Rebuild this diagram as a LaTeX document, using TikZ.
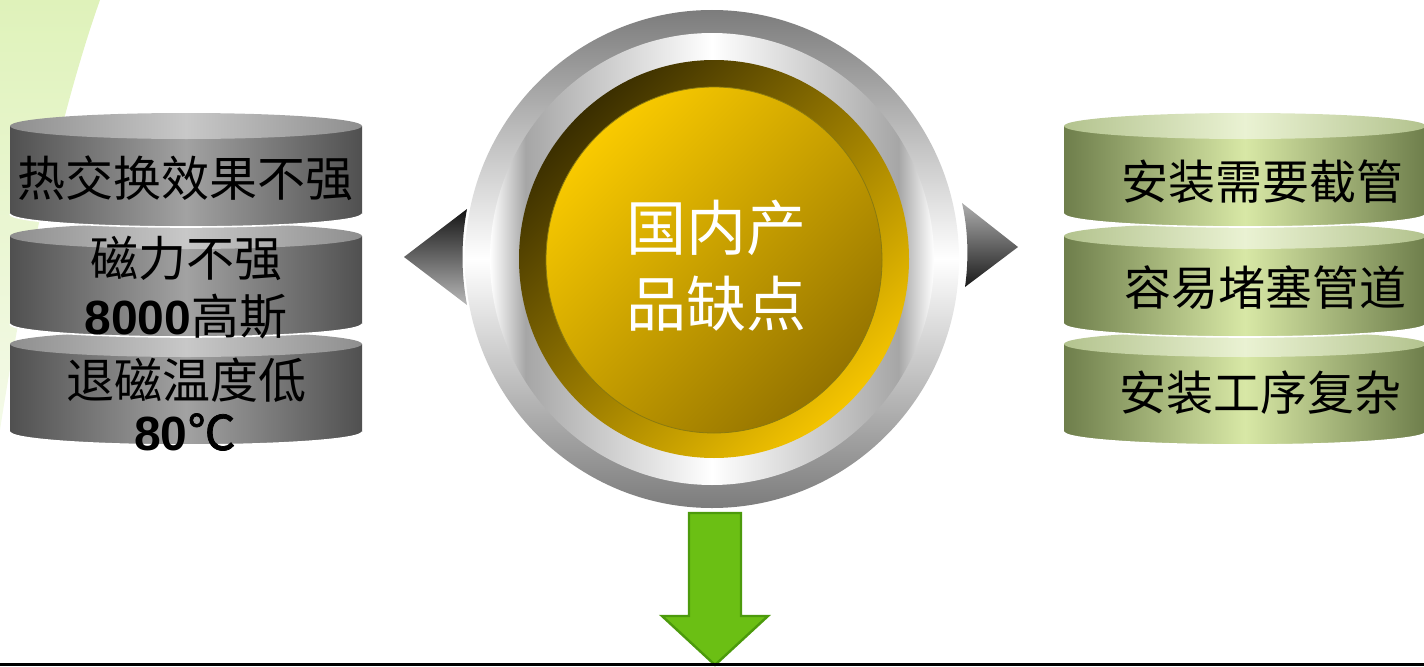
\documentclass[tikz,border=0pt]{standalone}
\usepackage{fontspec}
\setmainfont{Liberation Sans}
\newfontfamily\cjk{Noto Sans CJK SC}
\newfontfamily\cjkb[FakeBold=1.5]{Noto Sans CJK SC}
\definecolor{gd}{HTML}{505050}
\definecolor{gm}{HTML}{A2A2A2}
\definecolor{gtd}{HTML}{8E8E8E}
\definecolor{gtm}{HTML}{C8C8C8}
\definecolor{od}{HTML}{6E7E4B}
\definecolor{om}{HTML}{D8E8A6}
\definecolor{otd}{HTML}{B3C38E}
\definecolor{otm}{HTML}{EAF2D3}
\definecolor{leafA}{HTML}{DFF2BA}
\definecolor{leafB}{HTML}{F4FAE8}
\definecolor{ringgray}{HTML}{A6A6A6}
\definecolor{ringouter}{HTML}{7C7C7C}
\definecolor{golddark}{HTML}{3A2E00}
\definecolor{goldbright}{HTML}{F4C400}
\definecolor{yelbright}{HTML}{F9CA00}
\definecolor{yeldark}{HTML}{957400}
\definecolor{yeledge}{HTML}{8A7A10}
\definecolor{arrowgreen}{HTML}{6BBF14}
\definecolor{arrowedge}{HTML}{4C9A0C}
\pgfdeclarehorizontalshading{ringtwo}{100bp}{color(0bp)=(white); color(25bp)=(white); color(29bp)=(ringgray); color(50bp)=(white); color(71bp)=(ringgray); color(75bp)=(white); color(100bp)=(white)}
\tikzset{
  gbody/.style={left color=gd, right color=gd, middle color=gm},
  gtop/.style={left color=gtd, right color=gtd, middle color=gtm},
  obody/.style={left color=od, right color=od, middle color=om},
  otop/.style={left color=otd, right color=otd, middle color=otm},
  cyltext/.style={inner sep=0pt, text=black, font=\cjk\fontsize{24}{28}\selectfont},
  cyltextr/.style={inner sep=0pt, text=black, font=\cjk\fontsize{23.5}{28}\selectfont},
  centertext/.style={inner sep=0pt, text=white, font=\cjk\fontsize{30}{34}\selectfont},
}
\newcommand\mycyl[6]{%
  \path[#5] ({#1-#2},#3) -- ({#1-#2},#4) arc[start angle=180,end angle=360,x radius=#2,y radius=13] -- ({#1+#2},#3) -- cycle;
  \draw[white, line width=0.8] ({#1-#2},#4) arc[start angle=180,end angle=360,x radius=#2,y radius=13];
  \path[#6] (#1,#3) ellipse [x radius=#2, y radius=13];
}
\begin{document}
\begin{tikzpicture}[x=0.5pt,y=0.5pt]
\useasboundingbox (0,0) rectangle (1424,666);
% light green leaf in the corner
\shade[top color=leafA, bottom color=leafB] (0,666) -- (100,666) .. controls (62,560) and (22,380) .. (0,236) -- cycle;

% left cylinders
\mycyl{186}{176}{322}{234}{gbody}{gtop}
\mycyl{186}{176}{430}{342}{gbody}{gtop}
\mycyl{186}{176}{540}{452}{gbody}{gtop}
% right cylinders
\mycyl{1245}{181}{322}{234}{obody}{otop}
\mycyl{1245}{181}{430}{342}{obody}{otop}
\mycyl{1245}{181}{540}{452}{obody}{otop}

\node[cyltext] (l1) at (186,488) {热交换效果不强};
\node[cyltext] (l2) at (186,408) {磁力不强};
\node[cyltext] (l3) at (186,349) {{\rmfamily\bfseries 8000}高斯};
\node[cyltext] (l4) at (186,286) {退磁温度低};
\node[cyltext] (l5) at (185,234) {{\rmfamily\bfseries 80}{\cjkb ℃}};

\node[cyltextr] (r1) at (1262,484) {安装需要截管};
\node[cyltextr] (r2) at (1265,378) {容易堵塞管道};
\node[cyltextr] (r3) at (1260,273) {安装工序复杂};

% side triangles
\shade[top color=black!92, bottom color=black!28] (404,409) -- (467,457) .. controls (461,425) and (461,393) .. (467,361) -- cycle;
\shade[top color=black!32, bottom color=black!90] (962,463) -- (1018,419) -- (965,379) .. controls (969,407) and (968,437) .. cycle;

% central disc
\shade[top color=ringouter, bottom color=ringouter, middle color=white] (712,407) ellipse [x radius=247, y radius=249];
\shade[shading=ringtwo] (712,407) ellipse [x radius=222, y radius=226];
\shade[top color=golddark, bottom color=goldbright, shading angle=45] (714,407) ellipse [x radius=195, y radius=199];
\path[draw=yeledge, line width=0.4, top color=yelbright, bottom color=yeldark, shading angle=45] (714,406) ellipse [x radius=168, y radius=173];

\node[centertext] (c1) at (716,438) {国内产};
\node[centertext] (c2) at (716,362) {品缺点};

% green down arrow
\filldraw[fill=arrowgreen, draw=arrowedge, line width=1.2] (689,153) -- (741,153) -- (741,50) -- (768,50) -- (715,1) -- (662,50) -- (689,50) -- cycle;

% bottom rule
\fill[black] (0,0) rectangle (1424,3.5);
\end{tikzpicture}
\end{document}
